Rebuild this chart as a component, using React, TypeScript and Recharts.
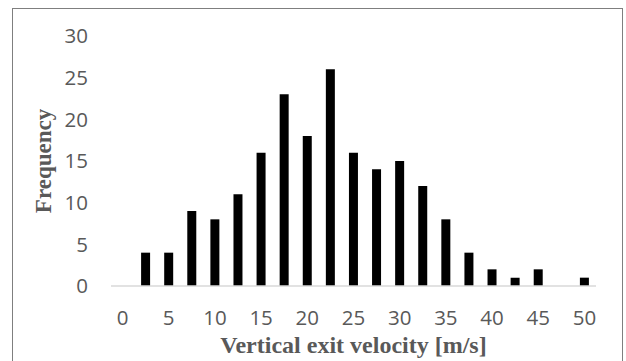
import React from 'react';
import { BarChart, Bar, XAxis, YAxis, Label } from 'recharts';

const velocities = [0, 2.5, 5, 7.5, 10, 12.5, 15, 17.5, 20, 22.5, 25, 27.5, 30, 32.5, 35, 37.5, 40, 42.5, 45, 47.5, 50];
const frequencies = [0, 4, 4, 9, 8, 11, 16, 23, 18, 26, 16, 14, 15, 12, 8, 4, 2, 1, 2, 0, 1];
const yTicks = [0, 5, 10, 15, 20, 25, 30];

const data = velocities.map((v, i) => ({ v, f: frequencies[i] }));

const tickStyle = { fill: '#595959', fontSize: 20.5, fontFamily: '"Open Sans", sans-serif' };
const titleFont = { fill: '#595959', fontWeight: 'bold' as const, fontFamily: '"Liberation Serif", "Times New Roman", serif' };

export default function App() {
  return (
    <div style={{ position: 'fixed', left: 0, top: 0, width: 626, height: 361, background: '#fff' }}>
      <div style={{ position: 'absolute', left: 12, top: 8, width: 611, height: 400, border: '1px solid #7f7f7f', boxSizing: 'border-box' }} />
      <div style={{ position: 'absolute', left: 0, top: 0 }}>
        <BarChart width={626} height={361} data={data} margin={{ top: 36, right: 30, bottom: 35, left: 51 }}>
          <XAxis
            dataKey="v"
            interval={1}
            tickLine={false}
            tickSize={0}
            tickMargin={24}
            axisLine={{ stroke: '#d9d9d9', strokeWidth: 1.5 }}
            tick={tickStyle}
            height={40}
          >
            <Label
              content={(props: any) => {
                const vb = props.viewBox;
                const cx = vb.x + vb.width / 2;
                return (
                  <text x={cx} y={353} textAnchor="middle" style={{ ...titleFont, fontSize: 24 }}>
                    Vertical exit velocity [m/s]
                  </text>
                );
              }}
            />
          </XAxis>
          <YAxis
            domain={[0, 30]}
            ticks={yTicks}
            axisLine={false}
            tickLine={false}
            tickSize={0}
            tickMargin={23}
            width={60}
            tick={tickStyle}
          >
            <Label
              content={(props: any) => {
                const vb = props.viewBox;
                const cy = vb.y + vb.height / 2;
                return (
                  <text
                    x={43}
                    y={cy}
                    textAnchor="middle"
                    dominantBaseline="central"
                    transform={`rotate(-90, 43, ${cy})`}
                    style={{ ...titleFont, fontSize: 23 }}
                  >
                    Frequency
                  </text>
                );
              }}
            />
          </YAxis>
          <Bar dataKey="f" fill="#000000" barSize={9} isAnimationActive={false} />
        </BarChart>
      </div>
    </div>
  );
}
